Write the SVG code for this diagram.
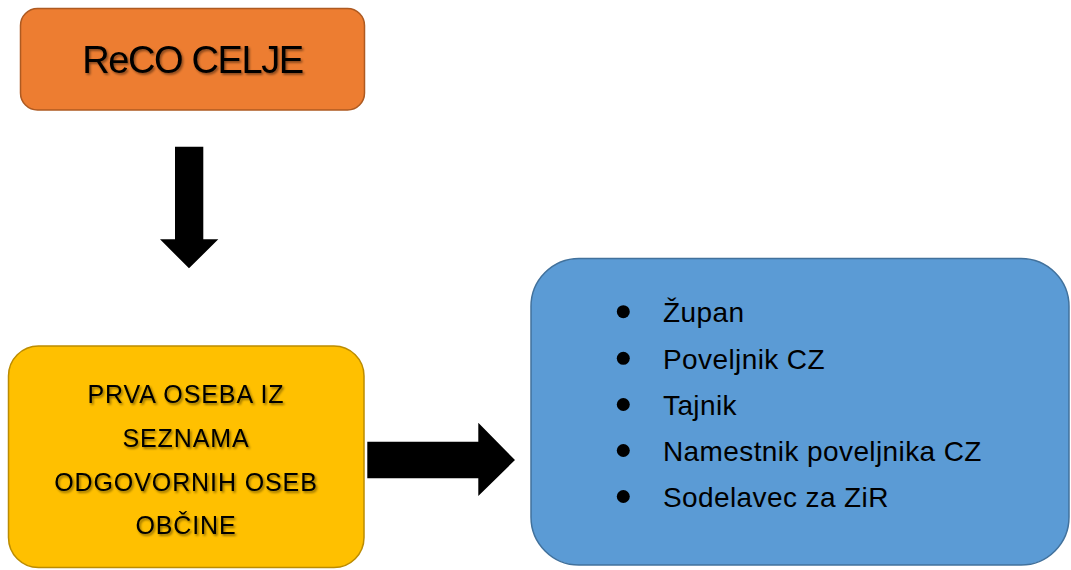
<svg xmlns="http://www.w3.org/2000/svg" width="1071" height="570" viewBox="0 0 1071 570">
<style>
.t{font-family:"Liberation Sans",Arial,sans-serif;fill:#000;}
.sh{filter:url(#ts);}
.arrow{fill:#000;}
.list{font-size:28px;letter-spacing:0.4px;}
.mid{text-anchor:middle;}
</style>
<defs>
<filter id="ts" x="-10%" y="-30%" width="130%" height="180%">
<feDropShadow dx="1.5" dy="1.8" stdDeviation="1.2" flood-color="#000" flood-opacity="0.45"/>
</filter>
</defs>
<rect width="1071" height="570" fill="#fff"/>
<g id="reco">
<rect x="20.5" y="8.5" width="344" height="101.5" rx="17" fill="#ED7D31" stroke="#AE5A21" stroke-width="1.5"/>
<text class="t mid sh" x="192.5" y="73.3" font-size="38" letter-spacing="-1.4">ReCO CELJE</text>
</g>
<g id="prva">
<rect x="8.5" y="346" width="355.5" height="221.5" rx="30" fill="#FFC000" stroke="#BC8C00" stroke-width="1.5"/>
<g class="t mid sh" font-size="25" letter-spacing="0.9">
<text x="186" y="402.7">PRVA OSEBA IZ</text>
<text x="186" y="447.3">SEZNAMA</text>
<text x="186" y="491">ODGOVORNIH OSEB</text>
<text x="186" y="534">OBČINE</text>
</g>
</g>
<g id="seznam">
<rect x="531" y="258.5" width="538" height="306.5" rx="48" fill="#5B9BD5" stroke="#41719C" stroke-width="1.5"/>
<g fill="#000">
<circle cx="623.3" cy="311.7" r="6.5"/>
<circle cx="623.3" cy="358.3" r="6.5"/>
<circle cx="623.3" cy="404.5" r="6.5"/>
<circle cx="623.3" cy="450.5" r="6.5"/>
<circle cx="623.3" cy="496.5" r="6.5"/>
</g>
<g class="t list">
<text x="663" y="322">Župan</text>
<text x="663" y="369">Poveljnik CZ</text>
<text x="663" y="415">Tajnik</text>
<text x="663" y="461">Namestnik poveljnika CZ</text>
<text x="663" y="507">Sodelavec za ZiR</text>
</g>
</g>
<g id="connectors">
<polygon class="arrow" points="175,146.7 203.3,146.7 203.3,239.3 218.3,239.3 189,268.3 160,239.3 175,239.3"/>
<polygon class="arrow" points="367.3,441.7 478.3,441.7 478.3,422.7 515,460 478.3,496 478.3,478.3 367.3,478.3"/>
</g>
</svg>
